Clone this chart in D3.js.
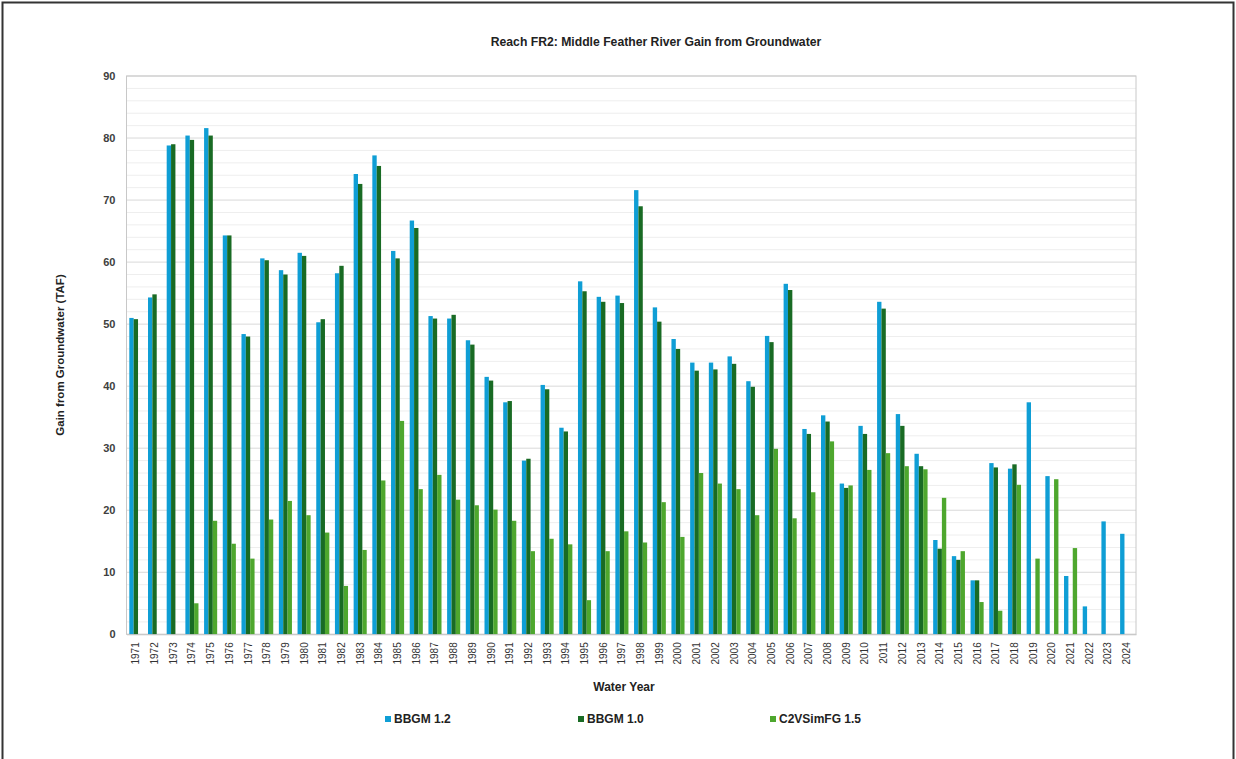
<!DOCTYPE html>
<html><head><meta charset="utf-8">
<script src="https://cdn.jsdelivr.net/npm/d3@7"></script>
<style>
body{margin:0;background:#fff;}
text{font-family:"Liberation Sans Narrow","Arial Narrow","Liberation Sans",sans-serif;}
</style></head>
<body><svg id="c" width="1236" height="759"></svg>
<script>
const years = d3.range(1971, 2025).map(String);
const bbgm12 = [51.0,54.3,78.8,80.4,81.6,64.3,48.4,60.6,58.7,61.5,50.3,58.2,74.2,77.2,61.8,66.7,51.3,50.9,47.4,41.5,37.4,28.0,40.2,33.3,56.9,54.4,54.6,71.6,52.7,47.6,43.8,43.8,44.8,40.8,48.1,56.5,33.1,35.3,24.3,33.6,53.6,35.5,29.1,15.2,12.6,8.7,27.6,26.7,37.4,25.5,9.4,4.5,18.2,16.2];
const bbgm10 = [50.8,54.8,79.0,79.7,80.4,64.3,48.0,60.3,58.0,61.0,50.8,59.4,72.6,75.5,60.6,65.5,50.9,51.5,46.7,40.9,37.6,28.3,39.5,32.7,55.3,53.6,53.4,69.0,50.4,46.0,42.5,42.7,43.6,39.9,47.1,55.5,32.3,34.3,23.6,32.3,52.5,33.6,27.1,13.8,12.0,8.7,26.9,27.4,null,null,null,null,null,null];
const c2vsim = [null,null,null,5.0,18.3,14.6,12.2,18.5,21.5,19.2,16.4,7.8,13.6,24.8,34.4,23.4,25.7,21.7,20.8,20.1,18.3,13.4,15.4,14.5,5.5,13.4,16.6,14.8,21.3,15.7,26.0,24.3,23.4,19.2,29.9,18.7,22.9,31.1,24.0,26.5,29.2,27.1,26.6,22.0,13.4,5.2,3.8,24.1,12.2,25.0,13.9,null,null,null];
const seriesNames = ["BBGM 1.2","BBGM 1.0","C2VSimFG 1.5"];
const seriesColors = ["#0F9ED5","#196B24","#4EA72E"];
const yTicks = [0,10,20,30,40,50,60,70,80,90];
const title = "Reach FR2: Middle Feather River Gain from Groundwater";

const svg = d3.select("#c");
// page frame
svg.append("rect").attr("x",2.5).attr("y",2.5).attr("width",1231).attr("height",800)
  .attr("fill","none").attr("stroke","#333").attr("stroke-width",2);

const L=126.5, R=1136, T=76, B=634.3;
const x = d3.scaleBand().domain(years).range([L,R]).paddingInner(0.3).paddingOuter(0.15);
const xs = d3.scaleBand().domain(d3.range(3)).range([0,x.bandwidth()]);
const y = d3.scaleLinear().domain([0,90]).range([B,T]);

// minor gridlines
const g = svg.append("g");
g.selectAll("line.minor").data(d3.range(0,91,2).filter(v=>v%10!==0)).join("line")
  .attr("x1",L).attr("x2",R).attr("y1",d=>y(d)).attr("y2",d=>y(d))
  .attr("stroke","#eeeeee").attr("stroke-width",1);
g.selectAll("line.major").data(yTicks).join("line")
  .attr("x1",L).attr("x2",R).attr("y1",d=>y(d)).attr("y2",d=>y(d))
  .attr("stroke","#d9d9d9").attr("stroke-width",1);
// plot frame
svg.append("rect").attr("x",L).attr("y",T).attr("width",R-L).attr("height",B-T)
  .attr("fill","none").attr("stroke","#c8c8c8").attr("stroke-width",1);

const all=[bbgm12,bbgm10,c2vsim];
all.forEach((arr,si)=>{
  svg.append("g").selectAll("rect").data(years.map((yr,i)=>({yr,v:arr[i]})).filter(d=>d.v!=null))
    .join("rect")
    .attr("x",d=>x(d.yr)+xs(si)).attr("width",xs.bandwidth())
    .attr("y",d=>y(d.v)).attr("height",d=>y(0)-y(d.v))
    .attr("fill",seriesColors[si]);
});

// y axis
const ya = svg.append("g").attr("transform",`translate(${L},0)`)
  .call(d3.axisLeft(y).tickValues(yTicks).tickSize(0).tickPadding(11));
ya.select(".domain").remove();
ya.selectAll("text").attr("font-size",11).attr("font-weight","bold").attr("fill","#404040");

// x axis
const xa = svg.append("g").attr("transform",`translate(0,${B})`)
  .call(d3.axisBottom(x).tickSize(0));
xa.select(".domain").attr("stroke","#c8c8c8");
xa.selectAll("text").attr("font-size",10).attr("fill","#333")
  .attr("transform","rotate(-90)").attr("text-anchor","end")
  .attr("dx","-8").attr("dy","0.35em").attr("x",0).attr("y",0);

svg.append("text").attr("x",656).attr("y",46).attr("text-anchor","middle")
  .attr("font-size",12.2).attr("font-weight","bold").attr("fill","#222").text(title);
svg.append("text").attr("transform","translate(64,355) rotate(-90)").attr("text-anchor","middle")
  .attr("font-size",11.5).attr("font-weight","bold").attr("fill","#222").text("Gain from Groundwater (TAF)");
svg.append("text").attr("x",624).attr("y",691).attr("text-anchor","middle")
  .attr("font-size",12).attr("font-weight","bold").attr("fill","#222").text("Water Year");

const legX=[385,578,770];
seriesNames.forEach((n,i)=>{
  svg.append("rect").attr("x",legX[i]).attr("y",716).attr("width",6).attr("height",6).attr("fill",seriesColors[i]);
  svg.append("text").attr("x",legX[i]+9).attr("y",723).attr("font-size",12).attr("font-weight","bold")
    .attr("fill","#222").text(n);
});
</script></body></html>
